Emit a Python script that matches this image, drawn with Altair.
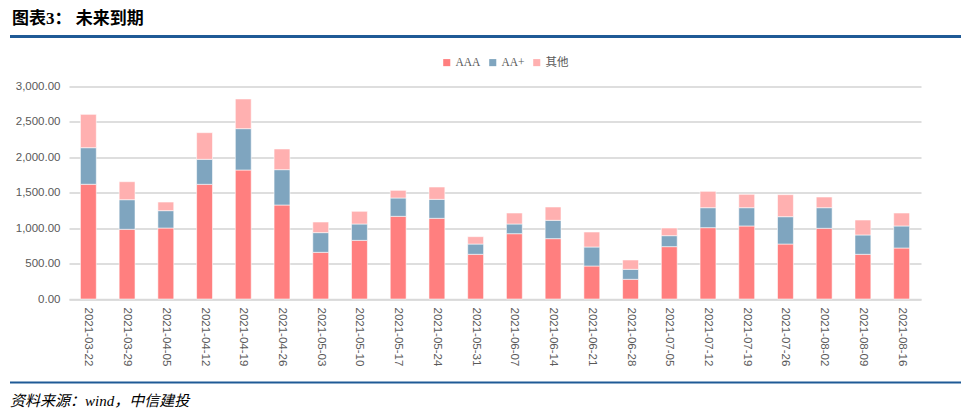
import altair as alt
import pandas as pd

dates = ["2021-03-22", "2021-03-29", "2021-04-05", "2021-04-12", "2021-04-19", "2021-04-26",
         "2021-05-03", "2021-05-10", "2021-05-17", "2021-05-24", "2021-05-31", "2021-06-07",
         "2021-06-14", "2021-06-21", "2021-06-28", "2021-07-05", "2021-07-12", "2021-07-19",
         "2021-07-26", "2021-08-02", "2021-08-09", "2021-08-16"]
aaa = [1620, 984, 1002, 1619, 1821, 1327, 659, 828, 1167, 1139, 631, 922,
       852, 466, 278, 739, 1007, 1031, 776, 998, 631, 720]
aa_plus = [516, 418, 245, 353, 584, 499, 278, 231, 259, 268, 145, 137,
           259, 268, 141, 155, 282, 258, 386, 291, 273, 311]
other = [471, 254, 122, 376, 419, 292, 150, 179, 108, 174, 104, 155,
         188, 212, 132, 108, 231, 189, 311, 151, 211, 183]
series = ["AAA", "AA+", "其他"]
colors = ["#FF7F7F", "#7FA5BF", "#FFB0B0"]

rows = []
for i, d in enumerate(dates):
    for k, (name, vals) in enumerate(zip(series, [aaa, aa_plus, other])):
        rows.append({"date": d, "series": name, "value": vals[i], "order": k})
df = pd.DataFrame(rows)

W, H = 852, 212.5

bars = alt.Chart(df).mark_bar(stroke="white", strokeWidth=0.8, strokeOpacity=0.7).encode(
    x=alt.X("date:N", sort=dates, title=None,
            scale=alt.Scale(paddingInner=0.59, paddingOuter=0.295),
            axis=alt.Axis(labelAngle=90, labelFont="Liberation Sans", labelFontSize=11.5,
                          labelColor="#595959", ticks=False, domain=True, domainColor="#D9D9D9",
                          domainWidth=1.5, labelPadding=8, grid=False)),
    y=alt.Y("value:Q", stack="zero", title=None,
            scale=alt.Scale(domain=[0, 3000]),
            axis=alt.Axis(values=[0, 500, 1000, 1500, 2000, 2500, 3000], format=",.2f",
                          labelFont="Liberation Sans", labelFontSize=11.5, labelColor="#595959",
                          ticks=False, domain=False, gridColor="#BDBDBD", gridWidth=1,
                          labelPadding=9)),
    color=alt.Color("series:N", sort=series,
                    scale=alt.Scale(domain=series, range=colors),
                    legend=alt.Legend(title=None, orient="none", direction="horizontal",
                                      legendX=372, legendY=-30, symbolType="square",
                                      symbolSize=50, symbolStrokeWidth=0,
                                      labelFont="Liberation Serif, Noto Sans CJK SC",
                                      labelFontSize=11.5, labelColor="#595959",
                                      columnPadding=6, labelOffset=3)),
    order=alt.Order("order:Q", sort="ascending"),
)

title = alt.Chart(pd.DataFrame({"t": ["图表3：  未来到期"]})).mark_text(
    align="left", baseline="middle", fontSize=17, fontWeight="bold",
    font="Liberation Serif, Noto Sans CJK SC", color="#000000"
).encode(x=alt.value(-57), y=alt.value(-68), text="t:N")

footer = alt.Chart(pd.DataFrame({"t": ["资料来源：wind，中信建投"]})).mark_text(
    align="left", baseline="middle", fontSize=15, fontStyle="italic",
    font="Liberation Serif, Noto Sans CJK SC", color="#000000"
).encode(x=alt.value(-59), y=alt.value(314), text="t:N")

top_line = alt.Chart(pd.DataFrame({"a": [0]})).mark_rule(color="#1F5A96", strokeWidth=3).encode(
    x=alt.value(-59), x2=alt.value(904), y=alt.value(-50))
bottom_line = alt.Chart(pd.DataFrame({"a": [0]})).mark_rule(color="#1F5A96", strokeWidth=2).encode(
    x=alt.value(-59), x2=alt.value(904), y=alt.value(296))

chart = alt.layer(bars, title, footer, top_line, bottom_line).properties(
    width=W, height=H,
    background="white",
    autosize=alt.AutoSizeParams(type="none"),
    padding={"left": 61, "top": 78.5, "right": 40, "bottom": 112},
).configure_view(stroke=None, strokeWidth=0)

chart.save("out.html", embed_options={"renderer": "svg", "actions": False})
